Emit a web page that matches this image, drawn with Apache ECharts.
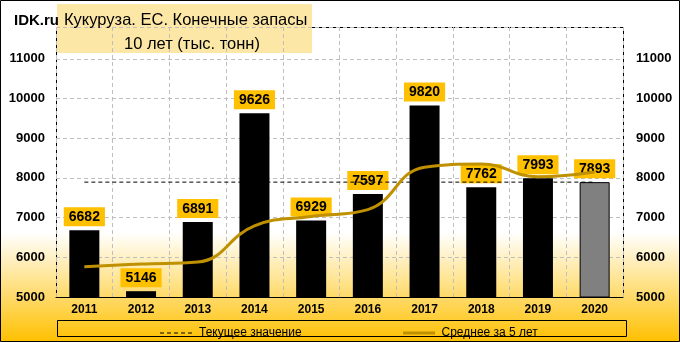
<!DOCTYPE html>
<html><head><meta charset="utf-8">
<script src="https://cdn.jsdelivr.net/npm/echarts@6/dist/echarts.min.js"></script>
<style>html,body{margin:0;padding:0;background:#fff}#c{width:680px;height:342px}</style>
</head><body><div id="c"></div>
<script>
const years = ['2011','2012','2013','2014','2015','2016','2017','2018','2019','2020'];
const stocks = [6682, 5146, 6891, 9626, 6929, 7597, 9820, 7762, 7993, 7893];
const avg5 = [5760, 5830, 5880, 6790, 7030, 7200, 8270, 8350, 8030, 8150];
const yTicks = [5000, 6000, 7000, 8000, 9000, 10000, 11000];
const titleLine1 = 'Кукуруза. ЕС. Конечные запасы';
const titleLine2 = '10 лет (тыс. тонн)';
const legendCurrent = 'Текущее значение';
const legendAvg = 'Среднее за 5 лет';

const current = stocks.map(() => stocks[stocks.length - 1]);
const chart = echarts.init(document.getElementById('c'), null, {renderer: 'canvas'});
const F = 'Liberation Sans, Arial, sans-serif';
const barData = stocks.map((v, i) => i === stocks.length - 1
  ? {value: v, itemStyle: {color: '#808080', borderColor: '#000', borderWidth: 1}}
  : {value: v});
const yAxisCommon = {
  type: 'value', min: 5000, max: 11800, interval: 1000,
  axisLine: {show: false}, axisTick: {show: false},
  axisLabel: {color: '#000', fontFamily: F, fontWeight: 'bold', fontSize: 13,
    showMaxLabel: false,
    formatter: v => yTicks.indexOf(v) >= 0 ? String(v) : ''}
};
const dashIcon = 'path://M0,0h4v1h-4zM7,0h4v1h-4zM14,0h4v1h-4zM21,0h4v1h-4zM28,0h4v1h-4z';
const solidIcon = 'path://M0,0h32v3h-32z';
chart.setOption({
  animation: false,
  backgroundColor: new echarts.graphic.LinearGradient(0, 0, 0, 1, [
    {offset: 0, color: '#FFFFFF'}, {offset: 0.68, color: '#FFFFFF'}, {offset: 1, color: '#FFC000'}]),
  title: [
    {text: 'IDK.ru', left: 9, top: 8, textStyle: {fontFamily: F, fontWeight: 'bold', fontSize: 15, color: '#000'}},
    {text: titleLine1, left: 59, top: 7, textStyle: {fontFamily: F, fontWeight: 'normal', fontSize: 16.5, color: '#000'}},
    {text: titleLine2, left: 119, top: 31, textStyle: {fontFamily: F, fontWeight: 'normal', fontSize: 16.5, color: '#000'}}
  ],
  grid: {left: 56, right: 57, top: 27, bottom: 45, show: false},
  legend: [
    {data: [{name: legendCurrent, icon: dashIcon, itemStyle: {color: '#000'}}], left: 155, top: 322,
      itemWidth: 32, itemHeight: 1, itemGap: 4,
      textStyle: {fontFamily: F, fontSize: 12, color: '#000', padding: [0, 0, 0, 2]}},
    {data: [{name: legendAvg, icon: solidIcon, itemStyle: {color: '#BF9000'}}], left: 398, top: 322,
      itemWidth: 35, itemHeight: 3, itemGap: 4,
      textStyle: {fontFamily: F, fontSize: 12, color: '#000'}}
  ],
  xAxis: {
    type: 'category', data: years,
    axisLine: {lineStyle: {color: '#000', width: 1}}, axisTick: {show: false},
    axisLabel: {color: '#000', fontFamily: F, fontWeight: 'bold', fontSize: 12, margin: 7},
    splitLine: {show: true, lineStyle: {color: '#BFBFBF', type: [4, 3]}}
  },
  yAxis: [
    Object.assign({}, yAxisCommon, {position: 'left',
      axisLabel: Object.assign({}, yAxisCommon.axisLabel, {margin: 11}),
      splitLine: {show: true, lineStyle: {color: '#BFBFBF', type: [4, 3]}}}),
    Object.assign({}, yAxisCommon, {position: 'right',
      axisLabel: Object.assign({}, yAxisCommon.axisLabel, {margin: 13}),
      splitLine: {show: false}})
  ],
  series: [
    {type: 'bar', name: 'Конечные запасы', data: barData, barWidth: 30,
      itemStyle: {color: '#000'},
      label: {show: true, position: 'top', distance: 4, color: '#000', fontFamily: F,
        fontWeight: 'bold', fontSize: 14, backgroundColor: '#FFC000', padding: [3, 5, 2, 5]}},
    {type: 'line', name: legendCurrent, data: current, symbol: 'none',
      lineStyle: {color: '#000', width: 1, type: [4, 3]}, itemStyle: {color: '#000'}},
    {type: 'line', name: legendAvg, data: avg5, symbol: 'none', smooth: 0.45,
      lineStyle: {color: '#BF9000', width: 3}, itemStyle: {color: '#BF9000'}}
  ],
  graphic: [
    {type: 'rect', shape: {x: 57, y: 4, width: 255, height: 49}, style: {fill: 'rgba(252,207,79,0.5)'}, z: -1, silent: true},
    {type: 'line', shape: {x1: 312, y1: 27.5, x2: 623.5, y2: 27.5}, style: {stroke: '#000', lineWidth: 1}, silent: true},
    {type: 'line', shape: {x1: 56.5, y1: 27, x2: 56.5, y2: 297}, style: {stroke: '#000', lineWidth: 1}, silent: true},
    {type: 'line', shape: {x1: 623.5, y1: 27, x2: 623.5, y2: 297}, style: {stroke: '#000', lineWidth: 1}, silent: true},
    {type: 'rect', shape: {x: 57.5, y: 320.5, width: 569, height: 16}, style: {fill: 'none', stroke: '#000', lineWidth: 1}, silent: true},
    {type: 'rect', shape: {x: 0.5, y: 0.5, width: 679, height: 341}, style: {fill: 'none', stroke: '#000', lineWidth: 1}, silent: true}
  ]
});
</script></body></html>
